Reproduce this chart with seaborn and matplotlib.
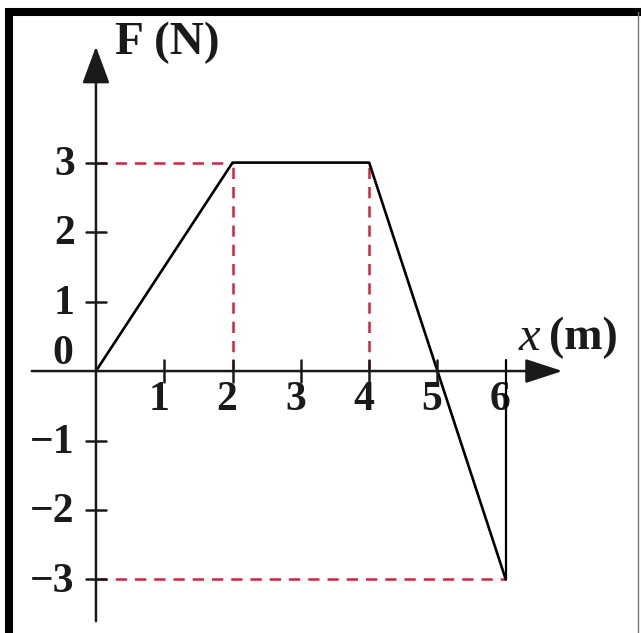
import matplotlib
matplotlib.use("Agg")
import matplotlib.pyplot as plt
import pandas as pd
import seaborn as sns
from matplotlib.lines import Line2D

# Force–displacement profile
x_m = [0, 2, 4, 6]
force_n = [0, 3, 3, -3]
x_ticks = [1, 2, 3, 4, 5, 6]
x_tick_labels = ["1", "2", "3", "4", "5", "6"]
y_ticks = [3, 2, 1, -1, -2, -3]
y_tick_labels = ["3", "2", "1", "\u22121", "\u22122", "\u22123"]

sns.set_style("white")
plt.rcParams["font.family"] = ["Liberation Serif", "DejaVu Serif"]

W, H = 641, 633
fig = plt.figure(figsize=(W / 100, H / 100), dpi=100)
ax = fig.add_axes([0, 0, 1, 1])
ax.set_xlim(-1.405, 7.98)
ax.set_ylim(-3.77, 5.34)
ax.axis("off")

df = pd.DataFrame({"x": x_m, "F": force_n})
sns.lineplot(data=df, x="x", y="F", ax=ax, color="black", lw=1.9,
             sort=False, estimator=None, zorder=5)
# closing vertical drop back to the axis at the end of the path
ax.plot([x_m[-1], x_m[-1]], [force_n[-1], 0.16], color="black", lw=1.6, zorder=5)

# red guide lines
red = "#d3233f"
dash = dict(color=red, lw=1.8, dashes=(4.5, 3.2), zorder=4)
fmax, fmin = max(force_n), min(force_n)
ax.plot([0, x_m[1]], [fmax, fmax], **dash)
ax.plot([x_m[1], x_m[1]], [0, fmax], **dash)
ax.plot([x_m[2], x_m[2]], [0, fmax], **dash)
ax.plot([0, x_m[3]], [fmin, fmin], **dash)

# axes with arrow heads
ax_col = "#1a1a1a"
ax.annotate("", xy=(6.83, 0), xytext=(-0.94, 0),
            arrowprops=dict(arrowstyle="-|>,head_length=2.3,head_width=0.75",
                            mutation_scale=10, lw=1.8, color=ax_col,
                            shrinkA=0, shrinkB=0), zorder=6)
ax.annotate("", xy=(0, 4.67), xytext=(0, -3.6),
            arrowprops=dict(arrowstyle="-|>,head_length=2.3,head_width=0.85",
                            mutation_scale=10, lw=1.8, color=ax_col,
                            shrinkA=0, shrinkB=0), zorder=6)

# cross ticks
for xt in x_ticks[:-1]:
    ax.plot([xt, xt], [-0.16, 0.16], color=ax_col, lw=1.8, zorder=6)
for yt in y_ticks:
    ax.plot([-0.15, 0.15], [yt, yt], color=ax_col, lw=1.8, zorder=6)

fs = 30
txt = dict(fontsize=fs, fontweight="bold", color="#1a1a1a")
for xt, lab in zip(x_ticks, x_tick_labels):
    ax.text(xt - 0.08, -0.42, lab, ha="center", va="center", **txt)
for yt, lab in zip(y_ticks, y_tick_labels):
    ax.text(-0.31, yt - 0.03, lab, ha="right", va="center", **txt)
ax.text(-0.33, 0.24, "0", ha="right", va="center", **txt)

ax.text(0.28, 4.72, "F (N)", ha="left", va="center", fontsize=34,
        fontweight="bold", color="#1a1a1a")
ax.text(6.63, 0.48, "(m)", ha="left", va="center", fontsize=33,
        fontweight="bold", color="#1a1a1a")
ax.text(6.5, 0.48, "x", ha="right", va="center", fontsize=35,
        fontstyle="italic", color="#1a1a1a")

# page frame: heavy top and left rules, light right rule
frame = dict(color="black", lw=5.8, solid_capstyle="butt",
             transform=fig.transFigure)
fig.add_artist(Line2D([5 / W, 1], [1 - 12 / H, 1 - 12 / H], **frame))
fig.add_artist(Line2D([9 / W, 9 / W], [0, 1 - 8 / H], **frame))
fig.add_artist(Line2D([638 / W, 638 / W], [0, 1 - 12 / H], color="#777777",
                      lw=1.0, transform=fig.transFigure))

fig.savefig("out.png", dpi=100, facecolor="white")
